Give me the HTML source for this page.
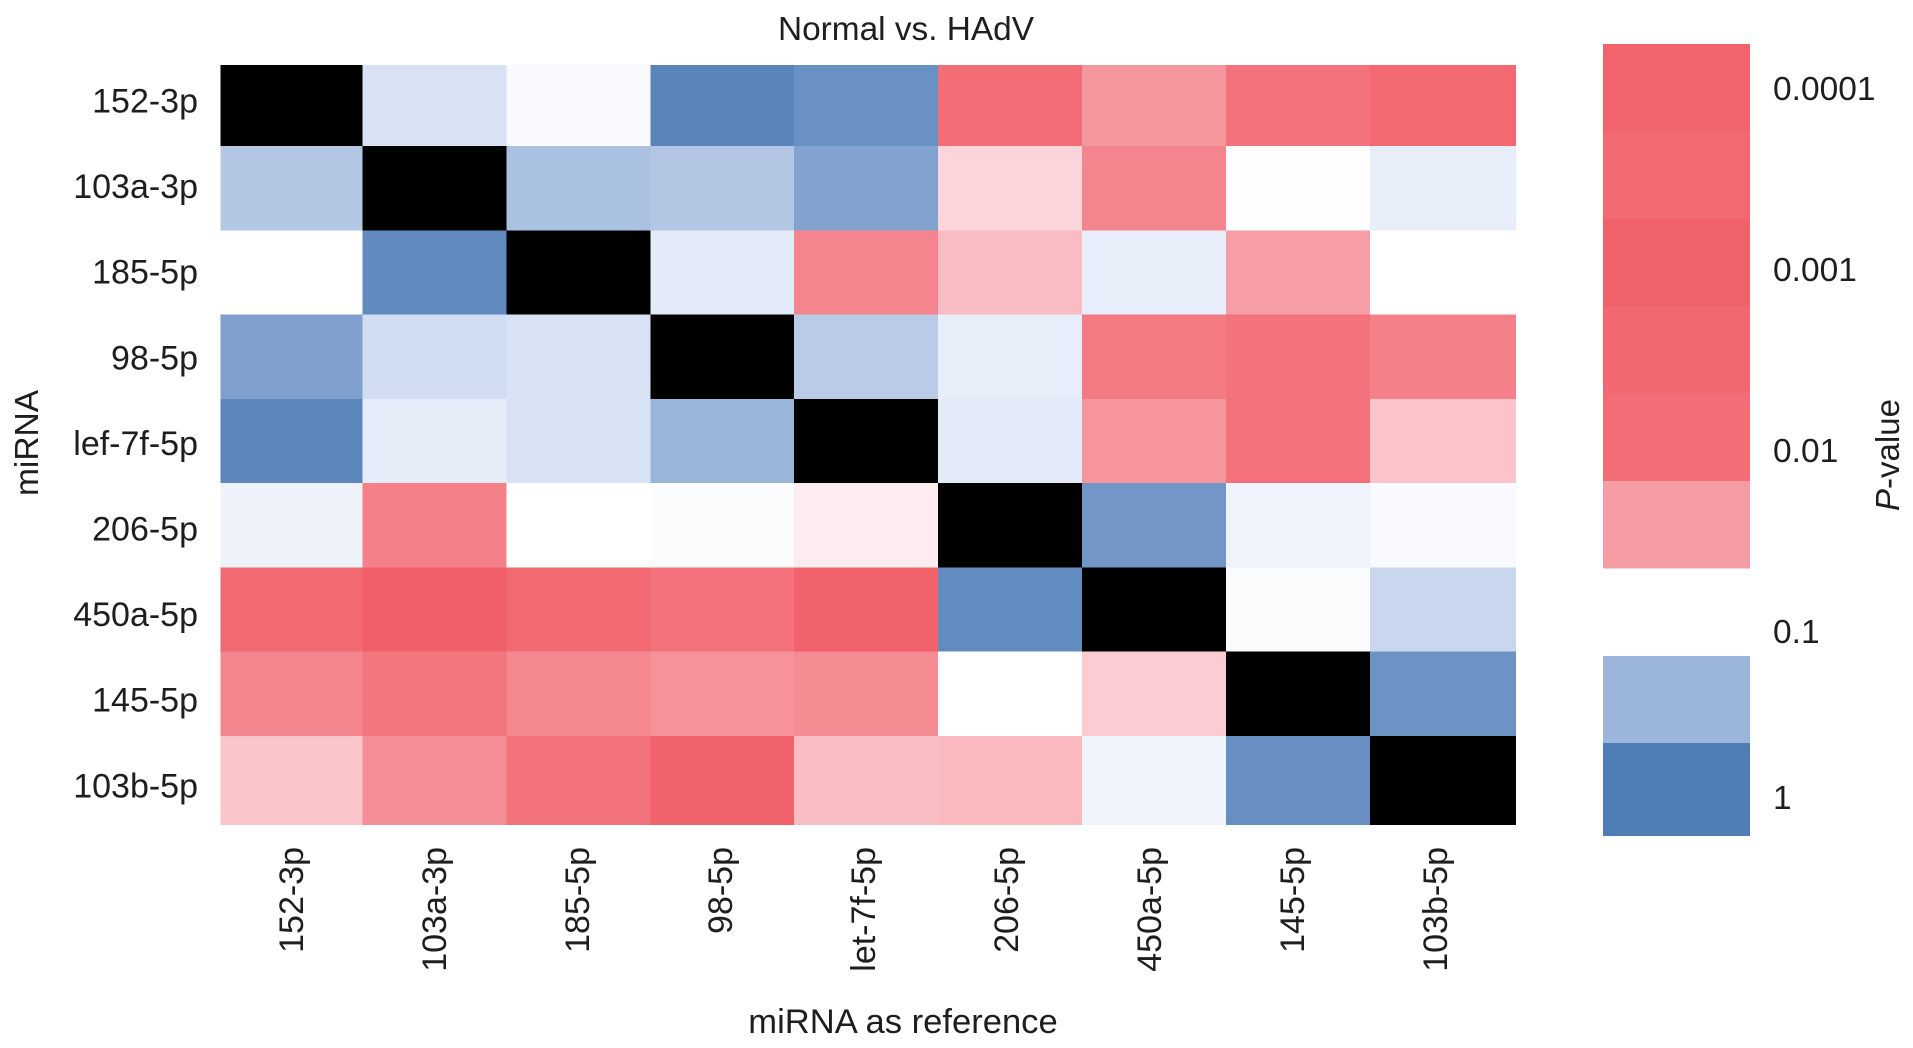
<!DOCTYPE html>
<html lang="en">
<head>
<meta charset="utf-8">
<title>Normal vs. HAdV heatmap</title>
<style>
  html, body { margin: 0; padding: 0; background: #ffffff; }
  body { width: 1913px; height: 1048px; overflow: hidden; }
  svg { display: block; }
  text { font-family: "Liberation Sans", Arial, sans-serif; fill: #1e1e1e; font-size: 34px; }
  rect { shape-rendering: crispEdges; }
</style>
</head>
<body>
<svg id="chart" width="1913" height="1048" viewBox="0 0 1913 1048" xmlns="http://www.w3.org/2000/svg">
  <text x="906" y="40" text-anchor="middle" style="font-size:33.4px">Normal vs. HAdV</text>
  <text x="903" y="1033" text-anchor="middle" style="font-size:34.6px">miRNA as reference</text>
  <text transform="translate(38 443) rotate(-90)" text-anchor="middle" style="font-size:33.5px">miRNA</text>
  <text transform="translate(1899 455) rotate(-90)" text-anchor="middle" style="font-size:33px"><tspan font-style="italic">P</tspan>-value</text>
  <g id="cells"></g>
  <g id="yticks"></g>
  <g id="xticks"></g>
  <g id="colorbar"></g>
  <g id="cticks"></g>
</svg>
<script>
// Row and column categories
const rowLabels = ["152-3p", "103a-3p", "185-5p", "98-5p", "lef-7f-5p", "206-5p", "450a-5p", "145-5p", "103b-5p"];
const columnLabels = ["152-3p", "103a-3p", "185-5p", "98-5p", "let-7f-5p", "206-5p", "450a-5p", "145-5p", "103b-5p"];

// Signed significance score: positive is red, negative is blue, null is the black diagonal
const row152 = [null, -0.22, -0.04, -0.94, -0.85, 0.91, 0.65, 0.88, 0.94];
const row103a = [-0.43, null, -0.48, -0.43, -0.71, 0.26, 0.76, 0.01, -0.13];
const row185 = [0, -0.90, null, -0.16, 0.76, 0.42, -0.13, 0.61, 0];
const row98 = [-0.73, -0.27, -0.22, null, -0.40, -0.13, 0.83, 0.875, 0.79];
const rowLet7f = [-0.92, -0.14, -0.22, -0.57, null, -0.16, 0.66, 0.89, 0.37];
const row206 = [-0.10, 0.79, 0, -0.02, 0.11, null, -0.80, -0.09, -0.04];
const row450a = [0.94, 1.0, 0.94, 0.88, 0.98, -0.89, null, -0.02, -0.31];
const row145 = [0.76, 0.86, 0.75, 0.68, 0.72, 0, 0.31, null, -0.83];
const row103b = [0.36, 0.71, 0.875, 0.98, 0.41, 0.44, -0.09, -0.86, null];
const matrix = [row152, row103a, row185, row98, rowLet7f, row206, row450a, row145, row103b];

// Colorbar bins from top to bottom, with their tick labels
const colorbarBins = [0.97, 0.94, 0.99, 0.95, 0.91, 0.62, 0, -0.56, -1];
const colorbarTicks = ["0.0001", "0.001", "0.01", "0.1", "1"];

const SVG_NS = "http://www.w3.org/2000/svg";
const RED = [241, 95, 104];
const BLUE = [79, 125, 181];

function colorFor(score) {
  if (score === null) return "#000000";
  const t = Math.min(1, Math.abs(score));
  const base = score >= 0 ? RED : BLUE;
  const lastPower = score >= 0 ? 1.05 : 1.25;
  const r = Math.round(255 + (base[0] - 255) * t);
  const g = Math.round(255 + (base[1] - 255) * t);
  const b = Math.round(255 + (base[2] - 255) * Math.pow(t, lastPower));
  return "rgb(" + r + "," + g + "," + b + ")";
}

// Axis functions
function xEdge(i) {
  if (i === 0) return 220.5;
  if (i === matrix[0].length) return 1516;
  return 362.5 + (i - 1) * 143.9;
}
function yEdge(i) {
  if (i === 0) return 65;
  if (i === matrix.length) return 825;
  return 146 + (i - 1) * 84.25;
}
function yTickBaseline(i) { return 112.5 + i * 85.6; }
function xTickBaseline(i) { return 291.5 + i * 143 + 11.5; }
function binEdge(i) {
  if (i === colorbarBins.length) return 836;
  return 44 + i * 87.4;
}
function colorbarTickBaseline(i) {
  if (i === colorbarTicks.length - 1) return 809;
  return 100 + i * 181;
}

function make(tag, attrs, parent, text) {
  const el = document.createElementNS(SVG_NS, tag);
  Object.keys(attrs).forEach(function (k) { el.setAttribute(k, attrs[k]); });
  if (text !== undefined) el.textContent = text;
  parent.appendChild(el);
  return el;
}

const cellsGroup = document.getElementById("cells");
matrix.forEach(function (row, r) {
  row.forEach(function (value, c) {
    const cell = make("rect", {
      x: xEdge(c),
      y: yEdge(r),
      width: xEdge(c + 1) - xEdge(c),
      height: yEdge(r + 1) - yEdge(r),
      fill: colorFor(value)
    }, cellsGroup);
    
    
  });
});

const yTickGroup = document.getElementById("yticks");
rowLabels.forEach(function (label, i) {
  const t = make("text", { x: 198, y: yTickBaseline(i), "text-anchor": "end" }, yTickGroup, label);
  
  
});

const xTickGroup = document.getElementById("xticks");
columnLabels.forEach(function (label, i) {
  const t = make("text", {
    transform: "translate(" + xTickBaseline(i) + " 847) rotate(-90)",
    "text-anchor": "end"
  }, xTickGroup, label);
  
  
});

const colorbarGroup = document.getElementById("colorbar");
colorbarBins.forEach(function (value, i) {
  const bin = make("rect", {
    x: 1603,
    y: binEdge(i),
    width: 147,
    height: binEdge(i + 1) - binEdge(i),
    fill: colorFor(value)
  }, colorbarGroup);
  
  
});

const colorbarTickGroup = document.getElementById("cticks");
colorbarTicks.forEach(function (label, i) {
  const t = make("text", { x: 1773, y: colorbarTickBaseline(i), style: "font-size:33.5px" }, colorbarTickGroup, label);
  
  
});
</script>
</body>
</html>
